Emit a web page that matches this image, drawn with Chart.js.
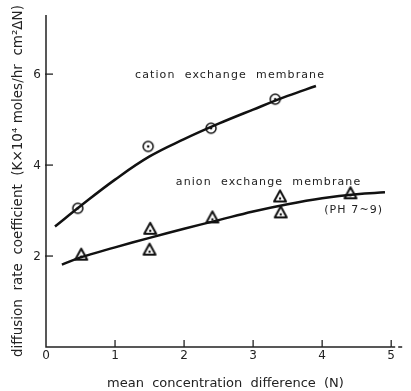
<!DOCTYPE html>
<html>
<head>
<meta charset="utf-8">
<script src="https://cdn.jsdelivr.net/npm/chart.js@4"></script>
<style>
  html, body { margin: 0; padding: 0; background: #fff; }
  #wrap { width: 411px; height: 391px; }
</style>
</head>
<body>
<div id="wrap"><canvas id="myChart" width="411" height="391"></canvas></div>
<script>
// measured points
var cationX = [0.46, 1.48, 2.39, 3.32];
var cationY = [3.05, 4.41, 4.81, 5.45];
var anionX = [0.51, 1.51, 1.50, 2.41, 3.39, 3.40, 4.41];
var anionY = [2.03, 2.60, 2.14, 2.85, 3.31, 2.96, 3.38];

// fitted curves
var cationCurveX = [0.13, 0.5, 1.0, 1.5, 2.0, 2.5, 3.0, 3.5, 3.91];
var cationCurveY = [2.65, 3.10, 3.68, 4.19, 4.57, 4.91, 5.22, 5.52, 5.74];
var anionCurveX = [0.23, 0.5, 1.0, 1.5, 2.0, 2.5, 3.0, 3.5, 4.0, 4.5, 4.91];
var anionCurveY = [1.81, 1.97, 2.19, 2.40, 2.60, 2.79, 2.98, 3.14, 3.27, 3.36, 3.40];

var xTicks = [0, 1, 2, 3, 4, 5];
var yTicks = [2, 4, 6];

var font = "'DejaVu Sans', sans-serif";

function pts(xs, ys) {
  return xs.map(function (x, i) { return { x: x, y: ys[i] }; });
}

// open circle with a dot in the middle
function circleMark() {
  var c = document.createElement("canvas");
  c.width = 14; c.height = 14;
  var g = c.getContext("2d");
  g.fillStyle = "#fff";
  g.strokeStyle = "#111";
  g.lineWidth = 1.5;
  g.beginPath(); g.arc(7, 7, 5, 0, Math.PI * 2); g.fill(); g.stroke();
  g.fillStyle = "#111";
  g.beginPath(); g.arc(7, 7, 1.3, 0, Math.PI * 2); g.fill();
  return c;
}

// heavy triangle with a small hollow
function triangleMark() {
  var c = document.createElement("canvas");
  c.width = 16; c.height = 16;
  var g = c.getContext("2d");
  g.fillStyle = "#fff";
  g.strokeStyle = "#111";
  g.lineWidth = 2;
  g.lineJoin = "round";
  g.beginPath(); g.moveTo(8, 2); g.lineTo(14, 13); g.lineTo(2, 13); g.closePath();
  g.fill(); g.stroke();
  g.fillStyle = "#111";
  g.beginPath(); g.arc(8, 10, 1.2, 0, Math.PI * 2); g.fill();
  return c;
}

var notes = [
  { text: "cation  exchange  membrane", x: 1.29, y: 5.98 },
  { text: "anion  exchange  membrane", x: 1.88, y: 3.62 },
  { text: "(PH 7~9)", x: 4.03, y: 3.00 }
];

var paperPlugin = {
  id: "paper",
  afterDraw: function (chart) {
    var ctx = chart.ctx;
    var xs = chart.scales.x, ys = chart.scales.y;
    var x0 = xs.getPixelForValue(0), y0 = ys.getPixelForValue(0);
    ctx.save();
    ctx.strokeStyle = "#222";
    ctx.lineWidth = 1.5;
    // axes
    ctx.beginPath();
    ctx.moveTo(x0, ys.top); ctx.lineTo(x0, y0);
    ctx.lineTo(xs.getPixelForValue(5), y0);
    ctx.stroke();
    ctx.setLineDash([4, 3]);
    ctx.beginPath();
    ctx.moveTo(xs.getPixelForValue(5), y0); ctx.lineTo(xs.right, y0);
    ctx.stroke();
    ctx.setLineDash([]);
    // inward ticks
    ctx.lineWidth = 1.3;
    yTicks.forEach(function (v) {
      var py = ys.getPixelForValue(v);
      ctx.beginPath(); ctx.moveTo(x0 - 1, py); ctx.lineTo(x0 + 7, py); ctx.stroke();
    });
    xTicks.slice(1).forEach(function (v) {
      var px = xs.getPixelForValue(v);
      ctx.beginPath(); ctx.moveTo(px, y0); ctx.lineTo(px, y0 - 7); ctx.stroke();
    });
    // y tick numbers, left of the axis
    ctx.fillStyle = "#222";
    ctx.font = "12px " + font;
    ctx.letterSpacing = "0px";
    ctx.textBaseline = "middle";
    ctx.textAlign = "left";
    yTicks.forEach(function (v) {
      var s = String(v);
      var w = ctx.measureText(s).width;
      ctx.fillText(s, x0 - 5 - w, ys.getPixelForValue(v) + 1);
    });
    // curve labels
    ctx.font = "11px " + font;
    ctx.letterSpacing = "1.1px";
    notes.forEach(function (n) {
      ctx.fillText(n.text, xs.getPixelForValue(n.x), ys.getPixelForValue(n.y));
    });
    ctx.letterSpacing = "0px";
    ctx.restore();
  }
};

new Chart("myChart", {
  type: "scatter",
  data: {
    datasets: [
      {
        type: "line",
        data: pts(cationCurveX, cationCurveY),
        borderColor: "#111",
        borderWidth: 2.5,
        pointRadius: 0,
        tension: 0.4,
        fill: false
      },
      {
        type: "line",
        data: pts(anionCurveX, anionCurveY),
        borderColor: "#111",
        borderWidth: 2.5,
        pointRadius: 0,
        tension: 0.4,
        fill: false
      },
      {
        data: pts(cationX, cationY),
        pointStyle: circleMark()
      },
      {
        data: pts(anionX, anionY),
        pointStyle: triangleMark()
      }
    ]
  },
  options: {
    responsive: false,
    devicePixelRatio: 1,
    animation: false,
    layout: { padding: { top: 15, right: 6, left: 0, bottom: 0 } },
    plugins: {
      legend: { display: false },
      tooltip: { enabled: false }
    },
    scales: {
      x: {
        type: "linear",
        min: 0,
        max: 5.2,
        grid: { display: false, drawTicks: false },
        border: { display: false },
        afterBuildTicks: function (s) { s.ticks = xTicks.map(function (v) { return { value: v }; }); },
        afterFit: function (s) { s.height = 44; },
        ticks: { color: "#222", font: { family: font, size: 12 }, padding: 2, maxRotation: 0 },
        title: {
          display: true,
          text: "mean  concentration  difference  (N)",
          color: "#222",
          font: { family: font, size: 13 },
          padding: { top: 8, bottom: 0 }
        }
      },
      y: {
        type: "linear",
        min: 0,
        max: 7.3,
        grid: { display: false, drawTicks: false },
        border: { display: false },
        afterBuildTicks: function (s) { s.ticks = yTicks.map(function (v) { return { value: v }; }); },
        afterFit: function (s) { s.width = 46; },
        ticks: { display: false },
        title: {
          display: true,
          text: "diffusion  rate  coefficient  (K×10⁴ moles/hr  cm²ΔN)",
          color: "#222",
          font: { family: font, size: 13.5 },
          padding: { top: 10, bottom: 0 }
        }
      }
    }
  },
  plugins: [paperPlugin]
});
</script>
</body>
</html>
